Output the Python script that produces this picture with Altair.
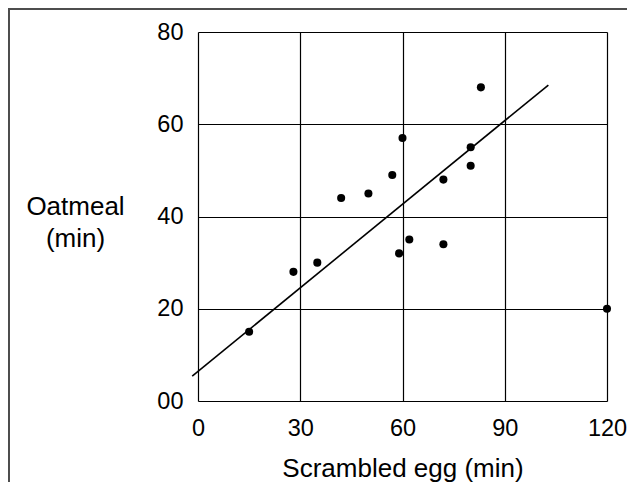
import altair as alt
import pandas as pd

# Data
egg_min = [15, 28, 35, 42, 50, 57, 60, 59, 62, 72, 72, 80, 80, 83, 120]
oat_min = [15, 28, 30, 44, 45, 49, 57, 32, 35, 48, 34, 55, 51, 68, 20]

fit_x = [-1.7, 102.8]
fit_y = [5.4, 68.5]

x_ticks = [0, 30, 60, 90, 120]
y_ticks = [0, 20, 40, 60, 80]

pts = pd.DataFrame({"egg": egg_min, "oat": oat_min})
fit = pd.DataFrame({"egg": fit_x, "oat": fit_y})

FONT = "Liberation Sans"

xscale = alt.Scale(domain=[0, 120], nice=False)
yscale = alt.Scale(domain=[0, 80], nice=False)

xaxis = alt.Axis(
    values=x_ticks, title="Scrambled egg (min)", ticks=False, domain=False,
    grid=True, gridColor="black", gridWidth=1.2, gridOpacity=1,
    labelFont=FONT, labelFontSize=23.5, labelColor="black", labelPadding=15,
    labelFlush=False,
    titleFont=FONT, titleFontSize=26, titleFontWeight="normal", titleColor="black",
    titleY=75, titleBaseline="alphabetic",
)
yaxis = alt.Axis(
    values=y_ticks, title=["Oatmeal", "(min)"], ticks=False, domain=False,
    grid=True, gridColor="black", gridWidth=1.2, gridOpacity=1,
    labelFont=FONT, labelFontSize=23.5, labelColor="black", labelPadding=15,
    labelFlush=False,
    labelExpr="datum.value == 0 ? '00' : datum.label",
    titleFont=FONT, titleFontSize=26, titleFontWeight="normal", titleColor="black",
    titleAngle=0, titleAlign="center", titleBaseline="middle",
    titleX=-123, titleY=174, titleLineHeight=32,
)

points = alt.Chart(pts).mark_circle(size=65, color="black", opacity=1).encode(
    x=alt.X("egg:Q", scale=xscale, axis=xaxis),
    y=alt.Y("oat:Q", scale=yscale, axis=yaxis),
)

line = alt.Chart(fit).mark_line(color="black", strokeWidth=1.6).encode(
    x=alt.X("egg:Q", scale=xscale),
    y=alt.Y("oat:Q", scale=yscale),
)

border_left = alt.Chart(pts).mark_rule(color="#4d4d4d", strokeWidth=1.2).encode(
    x=alt.value(-189.4), y=alt.value(-23.4), y2=alt.value(500)
)
border_top = alt.Chart(pts).mark_rule(color="#4d4d4d", strokeWidth=1.2).encode(
    x=alt.value(-189.4), x2=alt.value(500), y=alt.value(-23.4)
)

chart = alt.layer(border_left, border_top, line, points).properties(
    width=409, height=369,
    autosize=alt.AutoSizeParams(type="none"),
    padding={"left": 190, "top": 24, "right": 20, "bottom": 81},
).configure_view(stroke="black", strokeWidth=1.2).configure(background="white")

chart.save("out.html", embed_options={"renderer": "svg", "actions": False})
